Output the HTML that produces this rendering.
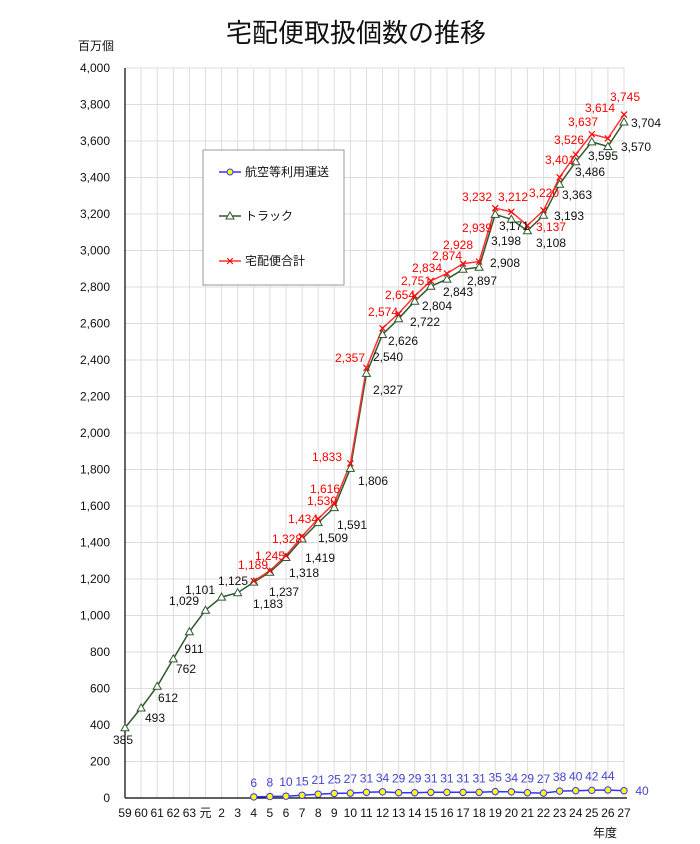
<!DOCTYPE html>
<html><head><meta charset="utf-8"><style>
body{margin:0;background:#fff;}
svg{display:block;font-family:"Liberation Sans","Noto Sans CJK JP",sans-serif;}
</style></head><body>
<svg id="s" width="700" height="844" xmlns="http://www.w3.org/2000/svg">
<text x="356" y="42" font-size="26" text-anchor="middle" fill="#111">宅配便取扱個数の推移</text>
<text x="96" y="50" font-size="12" text-anchor="middle" fill="#111">百万個</text>
<text x="605" y="837" font-size="12" text-anchor="middle" fill="#111">年度</text>
<g id="grid"></g><g id="lines"></g><g id="labels"></g>
<rect x="203" y="150" width="141" height="135" fill="#fff" stroke="#999"/>
<line x1="219" y1="172" x2="241" y2="172" stroke="#33f" stroke-width="1.5"/><circle cx="230" cy="172" r="3" fill="#ff0" stroke="#33f"/>
<text x="245" y="176" font-size="12" fill="#111">航空等利用運送</text>
<line x1="219" y1="216" x2="241" y2="216" stroke="#2d5a2d" stroke-width="1.5"/><path d="M230 212 L234 219 L226 219Z" fill="#fff" stroke="#2d5a2d"/>
<text x="245" y="220" font-size="12" fill="#111">トラック</text>
<line x1="219" y1="261" x2="241" y2="261" stroke="#f33" stroke-width="1.5"/><text x="230" y="265" font-size="11" fill="#f00" text-anchor="middle">✕</text>
<text x="245" y="265" font-size="12" fill="#111">宅配便合計</text>
</svg>
<script>
const NS="http://www.w3.org/2000/svg";
function el(p,t,a,txt){const e=document.createElementNS(NS,t);for(const k in a)e.setAttribute(k,a[k]);if(txt!==undefined)e.textContent=txt;document.getElementById(p).appendChild(e);return e;}
const X0=125,DX=(624-125)/31,Y0=798,K=730/4000;
const X=i=>X0+DX*i, Y=v=>Y0-v*K;
for(let i=0;i<=31;i++){el('grid','line',{x1:X(i),y1:68,x2:X(i),y2:798,stroke:'#ddd','stroke-width':1});}
for(let v=0;v<=4000;v+=200){el('grid','line',{x1:125,y1:Y(v),x2:624,y2:Y(v),stroke:'#ddd','stroke-width':1});
 el('grid','text',{x:110,y:Y(v)+4,'font-size':12,'text-anchor':'end',fill:'#111'},v.toLocaleString('en-US'));}
el('grid','line',{x1:125,y1:68,x2:125,y2:798,stroke:'#000','stroke-width':1.2});
el('grid','line',{x1:125,y1:798,x2:627,y2:798,stroke:'#000','stroke-width':1.2});
const cats=['59','60','61','62','63','元'];for(let n=2;n<=27;n++)cats.push(String(n));
cats.forEach((c,i)=>el('grid','text',{x:X(i),y:817,'font-size':12,'text-anchor':'middle',fill:'#111'},c));
const truck=[385,493,612,762,911,1029,1101,1125,1183,1237,1318,1419,1509,1591,1806,2327,2540,2626,2722,2804,2843,2897,2908,3198,3171,3108,3193,3363,3486,3595,3570,3704];
const total=[1189,1245,1328,1434,1530,1616,1833,2357,2574,2654,2751,2834,2874,2928,2939,3232,3212,3137,3220,3401,3526,3637,3614,3745];
const air=[6,8,10,15,21,25,27,31,34,29,29,31,31,31,31,35,34,29,27,38,40,42,44,40];
function poly(data,off){return data.map((v,i)=>X(i+off).toFixed(1)+','+Y(v).toFixed(1)).join(' ');}
el('lines','polyline',{points:poly(truck,0),fill:'none',stroke:'#2d5a2d','stroke-width':1.5});
el('lines','polyline',{points:poly(total,8),fill:'none',stroke:'#f33','stroke-width':1.5});
el('lines','polyline',{points:poly(air,8),fill:'none',stroke:'#33f','stroke-width':1.5});
truck.forEach((v,i)=>{const x=X(i),y=Y(v);el('lines','path',{d:`M${x} ${y-4} L${x+4} ${y+3} L${x-4} ${y+3}Z`,fill:'#fff',stroke:'#2d5a2d'});});
total.forEach((v,i)=>{const x=X(i+8),y=Y(v);el('lines','path',{d:`M${x-3} ${y-3} L${x+3} ${y+3} M${x+3} ${y-3} L${x-3} ${y+3}`,stroke:'#f00','stroke-width':1.2});});
air.forEach((v,i)=>{el('lines','circle',{cx:X(i+8),cy:Y(v),r:3.2,fill:'#ff0',stroke:'#33f'});});
const tl=[[123,740],[155,718],[168,698],[186,669],[194,649],[184,601],[200,590],[233,581],[268,604],[284,592],[304,573],[320,558],[333,538],[352,525],[373,481],[388,390],[388,357],[403,341],[425,322],[437,306],[458,292],[482,281],[505,263],[506,241],[514,226],[551,243],[569,216],[577,195],[590,172],[603,156],[636,147],[646,123]];
truck.forEach((v,i)=>el('labels','text',{x:tl[i][0],y:tl[i][1]+4,'font-size':12,'text-anchor':'middle',fill:'#111'},v.toLocaleString('en-US')));
const rl=[[253,565],[270,556],[287,539],[303,519],[322,501],[325,489],[327,457],[350,358],[383,312],[400,295],[416,281],[427,268],[447,256],[458,245],[477,228],[477,197],[513,197],[551,227],[544,193],[560,160],[569,140],[583,122],[600,108],[625,97]];
total.forEach((v,i)=>el('labels','text',{x:rl[i][0],y:rl[i][1]+4,'font-size':12,'text-anchor':'middle',fill:'#f00'},v.toLocaleString('en-US')));
air.forEach((v,i)=>{let x=X(i+8),y=Y(v)-14;if(i==air.length-1){x=642;y=791;}
 el('labels','text',{x:x,y:y+4,'font-size':12,'text-anchor':'middle',fill:'#44c'},String(v));});
</script>
</body></html>
